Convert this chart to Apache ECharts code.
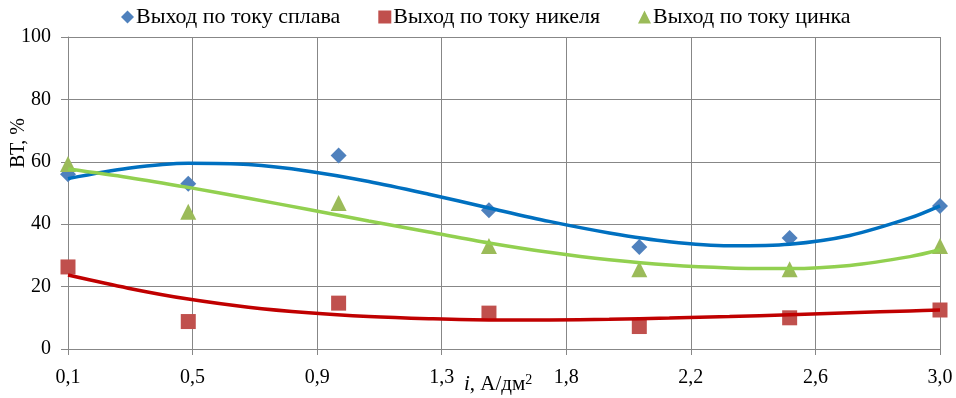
<!DOCTYPE html>
<html>
<head>
<meta charset="utf-8">
<script src="https://cdn.jsdelivr.net/npm/echarts@6/dist/echarts.min.js"></script>
<style>
  html, body { margin: 0; padding: 0; background: #fff; }
  #chart { width: 956px; height: 398px; }
</style>
</head>
<body>
<div id="chart"></div>
<script>
// tick labels on the x axis (Excel-style rounding of 0.1 .. 3.0 in 7 steps)
var xLabels = ['0,1', '0,5', '0,9', '1,3', '1,8', '2,2', '2,6', '3,0'];
// measured current densities
var xData = [0.1, 0.5, 1.0, 1.5, 2.0, 2.5, 3.0];
var alloyVals = [56, 53, 62, 44.5, 32.7, 35.6, 45.8];
var nickelVals = [26.3, 8.8, 14.7, 11.5, 7.2, 10, 12.5];
var zincVals = [59.3, 44, 46.8, 33, 25.6, 25.6, 33];
// trend lines
var trendX = [0.1, 0.3, 0.5, 0.7, 0.9, 1.1, 1.3, 1.5, 1.7, 1.9, 2.1, 2.3, 2.5, 2.7, 2.9, 3.0];
var alloyTrend = [54.6, 57.9, 59.5, 59.1, 57.0, 53.7, 49.6, 45.2, 40.9, 37.2, 34.4, 33.1, 33.6, 36.4, 42.0, 45.9];
var nickelTrend = [23.7, 19.5, 16.0, 13.4, 11.6, 10.4, 9.7, 9.3, 9.3, 9.5, 9.9, 10.4, 11.0, 11.6, 12.2, 12.5];
var zincTrend = [57.7, 55.0, 51.8, 48.3, 44.7, 41.0, 37.5, 34.0, 31.0, 28.6, 26.9, 26.0, 25.8, 26.8, 29.6, 31.8];

function pairs(xs, ys) {
  return xs.map(function (x, i) { return [x, ys[i]]; });
}

var font = 'Liberation Serif, Times New Roman, serif';
var gridColor = '#878787';
var chart = echarts.init(document.getElementById('chart'));

function trend(name, color, vals) {
  return {
    name: name,
    type: 'line',
    xAxisIndex: 1,
    smooth: 0.3,
    showSymbol: false,
    lineStyle: { color: color, width: 3.5 },
    data: pairs(trendX, vals),
    z: 3
  };
}

var option = {
  animation: false,
  textStyle: { fontFamily: font },
  legend: {
    top: 1,
    left: 116,
    itemGap: 38,
    itemWidth: 13,
    itemHeight: 13,
    textStyle: { fontFamily: font, fontSize: 22, color: '#000', padding: [0, 0, 0, -3] },
    data: [
      { name: 'Выход по току сплава', icon: 'diamond' },
      { name: 'Выход по току никеля', icon: 'rect' },
      { name: 'Выход по току цинка', icon: 'triangle' }
    ]
  },
  grid: { left: 68, right: 16, top: 37, bottom: 49 },
  xAxis: [
    {
      type: 'category',
      data: xLabels,
      boundaryGap: false,
      axisLine: { lineStyle: { color: gridColor } },
      axisTick: { show: true, length: 6, lineStyle: { color: gridColor } },
      axisLabel: { fontFamily: font, fontSize: 20, color: '#000', margin: 19 },
      splitLine: { show: true, lineStyle: { color: gridColor, width: 1 } }
    },
    {
      type: 'value',
      min: 0.1,
      max: 3.0,
      show: false
    }
  ],
  yAxis: {
    type: 'value',
    min: 0,
    max: 100,
    interval: 20,
    axisLine: { show: true, lineStyle: { color: gridColor } },
    axisTick: { show: true, length: 7, lineStyle: { color: gridColor } },
    axisLabel: { fontFamily: font, fontSize: 20, color: '#000', margin: 17 },
    splitLine: { lineStyle: { color: gridColor, width: 1 } }
  },
  graphic: [
    {
      type: 'text',
      x: 19,
      y: 143,
      rotation: Math.PI / 2,
      style: {
        text: 'ВТ, %',
        font: '20px ' + font,
        fill: '#000',
        align: 'center',
        verticalAlign: 'middle'
      }
    },
    {
      type: 'text',
      left: 464,
      top: 373,
      style: {
        text: '{i|i}, А/дм{s|2}',
        fill: '#000',
        rich: {
          i: { fontFamily: font, fontSize: 21, fontStyle: 'italic', fill: '#000' },
          s: { fontFamily: font, fontSize: 14, fill: '#000', verticalAlign: 'top', padding: [0, 0, 9, 0] }
        },
        font: '21px ' + font
      }
    }
  ],
  series: [
    {
      name: 'Выход по току сплава',
      type: 'scatter',
      xAxisIndex: 1,
      symbol: 'diamond',
      symbolSize: 16,
      itemStyle: { color: '#4F81BD', opacity: 1 },
      data: pairs(xData, alloyVals),
      z: 2
    },
    {
      name: 'Выход по току никеля',
      type: 'scatter',
      xAxisIndex: 1,
      symbol: 'rect',
      symbolSize: 15,
      itemStyle: { color: '#C0504D', opacity: 1 },
      data: pairs(xData, nickelVals),
      z: 2
    },
    {
      name: 'Выход по току цинка',
      type: 'scatter',
      xAxisIndex: 1,
      symbol: 'triangle',
      symbolSize: 16,
      itemStyle: { color: '#9BBB59', opacity: 1 },
      data: pairs(xData, zincVals),
      z: 2
    },
    trend('trend alloy', '#0070C0', alloyTrend),
    trend('trend nickel', '#C00000', nickelTrend),
    trend('trend zinc', '#92D050', zincTrend)
  ]
};

chart.setOption(option);
window.addEventListener('resize', function () { chart.resize(); });
</script>
</body>
</html>
